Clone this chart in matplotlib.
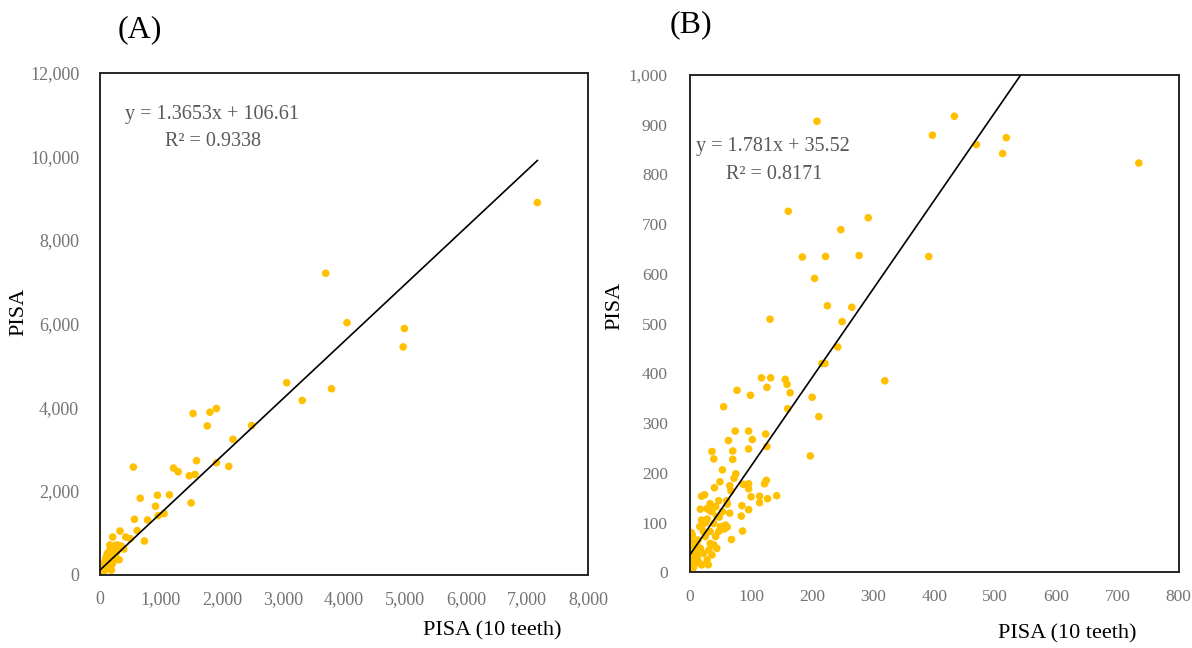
import matplotlib
matplotlib.use("Agg")
import matplotlib.pyplot as plt
from matplotlib.ticker import FuncFormatter, MultipleLocator

# ---------------- data ----------------
# Panel A: PISA (10 teeth) vs PISA
xa = [7170, 3700, 4050, 4990, 4970, 3060, 3315, 3795, 1526, 1802, 1909, 1758,
      2486, 2179, 1582, 1909, 2110, 546, 1206, 1281, 1463, 1557, 1494, 659,
      942, 1137, 910, 565, 779, 954, 1049, 609, 728, 327, 207, 421, 496, 389,
      314, 160, 239, 149, 202, 266, 106, 80, 43, 27, 11, 133, 160, 213, 186,
      293, 319, 60, 90, 120, 100, 50, 70, 140, 180, 230, 250, 30, 15, 5, 210,
      260, 170, 120, 95, 40, 350, 280, 190, 65, 20, 8]
ya = [8890, 7200, 6020, 5880, 5440, 4584, 4160, 4440, 3848, 3880, 3968, 3552,
      3560, 3232, 2720, 2672, 2584, 2568, 2544, 2456, 2360, 2392, 1712, 1824,
      1896, 1904, 1632, 1320, 1304, 1408, 1456, 1048, 800, 1040, 896, 896, 856,
      608, 352, 704, 584, 544, 440, 520, 424, 304, 184, 64, 0, 184, 264, 344,
      104, 704, 624, 120, 240, 330, 150, 40, 90, 380, 480, 650, 700, 20, 40,
      10, 280, 400, 600, 500, 380, 100, 680, 560, 230, 160, 60, 120]
slope_a, icpt_a = 1.3653, 106.61
eq_a = "y = 1.3653x + 106.61"
r2_a = "R² = 0.9338"

# Panel B
xb = [208, 433, 397, 469, 518, 512, 735, 161, 292, 247, 184, 222, 277, 391,
      204, 225, 265, 131, 249, 242, 216, 221, 319, 117, 132, 126, 156, 159,
      164, 77, 99, 200, 55, 160, 211, 74, 96, 124, 63, 102, 36, 70, 96, 126,
      39, 70, 197, 53, 75, 72, 49, 125, 122, 65, 87, 96, 96, 67, 40, 100, 114,
      127, 142, 114, 19, 24, 47, 60, 61, 85, 17, 33, 96, 84, 65, 48, 28, 19,
      61, 56, 86, 68, 2, 3,
      0, 1, 4, 11, 16, 19, 28, 33, 36, 42, 44, 39, 33, 25, 17, 22, 31, 36,
      14, 6, 0, 3, 8, 28, 19, 50, 47, 42, 53, 39, 44, 11, 6, 0, 1, 33, 58, 22,
      2, 5, 9, 13, 26, 30, 12, 4]
yb = [907, 917, 879, 860, 874, 842, 823, 726, 713, 689, 634, 635, 637, 635,
      591, 536, 533, 509, 504, 453, 420, 420, 385, 391, 391, 372, 388, 378,
      361, 366, 356, 352, 333, 329, 313, 284, 284, 278, 265, 267, 243, 244,
      248, 253, 228, 227, 234, 206, 198, 189, 182, 185, 178, 174, 177, 178,
      168, 164, 170, 152, 153, 148, 154, 140, 153, 156, 144, 144, 137, 134,
      127, 124, 126, 113, 119, 111, 107, 92, 91, 87, 83, 66, 80, 60,
      78, 62, 75, 58, 92, 105, 128, 138, 122, 132, 112, 98, 82, 72, 48, 38,
      45, 35, 21, 11, 1, 25, 31, 25, 15, 92, 82, 72, 122, 55, 48, 38, 51, 38,
      18, 58, 95, 82, 8, 40, 20, 65, 100, 15, 30, 5]
slope_b, icpt_b = 1.781, 35.52
eq_b = "y = 1.781x + 35.52"
r2_b = "R² = 0.8171"

xlabel = "PISA (10 teeth)"
ylabel = "PISA"

# ---------------- style ----------------
W, H = 1192, 648
FONT = "Liberation Serif"
plt.rcParams["font.family"] = [FONT, "DejaVu Serif"]
TICK_C = "#737373"
EQ_C = "#595959"
DOT_C = "#FFC000"
SPINE_C = "#262626"

fig = plt.figure(figsize=(W / 100, H / 100), dpi=100)


def px_axes(l, t, r, b):
    return fig.add_axes([l / W, 1 - b / H, (r - l) / W, (b - t) / H])


def fmt(v, _):
    return f"{v:,.0f}"


def style(ax, xmax, xstep, ymax, ystep, ypad, lsize):
    ax.set_xlim(0, xmax)
    ax.set_ylim(0, ymax)
    ax.xaxis.set_major_locator(MultipleLocator(xstep))
    ax.yaxis.set_major_locator(MultipleLocator(ystep))
    ax.xaxis.set_major_formatter(FuncFormatter(fmt))
    ax.yaxis.set_major_formatter(FuncFormatter(fmt))
    ax.tick_params(axis="both", length=0, labelsize=lsize, labelcolor=TICK_C)
    ax.tick_params(axis="y", pad=ypad)
    ax.tick_params(axis="x", pad=12)
    for s in ax.spines.values():
        s.set_color(SPINE_C)
        s.set_linewidth(1.4)


def fig_text(x, y, s, **kw):
    fig.text(x / W, 1 - y / H, s, ha="center", va="center", **kw)


# Panel A
axA = px_axes(100, 72.5, 588, 574.5)
style(axA, 8000, 1000, 12000, 2000, 15, 13)
axA.scatter(xa, ya, s=30, color=DOT_C, edgecolors="none", zorder=2)
xa0, xa1 = min(xa), max(xa)
axA.plot([xa0, xa1], [slope_a * xa0 + icpt_a, slope_a * xa1 + icpt_a],
         color="black", lw=1.2, zorder=3)

# Panel B
axB = px_axes(690, 75, 1178.5, 572.3)
style(axB, 800, 100, 1000, 100, 16, 12.5)
axB.scatter(xb, yb, s=30, color=DOT_C, edgecolors="none", zorder=2)
xb0, xb1 = min(xb), max(xb)
axB.plot([xb0, xb1], [slope_b * xb0 + icpt_b, slope_b * xb1 + icpt_b],
         color="black", lw=1.2, zorder=3)

# equations
fig.text(125.5 / W, 1 - 114 / H, eq_a, ha="left", va="center", fontsize=14.5, color=EQ_C)
fig.text(164.6 / W, 1 - 141.7 / H, r2_a, ha="left", va="center", fontsize=14.5, color=EQ_C)
fig.text(696.3 / W, 1 - 146.7 / H, eq_b, ha="left", va="center", fontsize=14.5, color=EQ_C)
fig.text(726 / W, 1 - 174 / H, r2_b, ha="left", va="center", fontsize=14.5, color=EQ_C)

# panel letters
fig_text(140, 30, "(A)", fontsize=23, color="black")
fig_text(691, 25, "(B)", fontsize=23, color="black")

# axis labels
fig_text(492, 631, xlabel, fontsize=16, color="black")
fig_text(1067, 634, xlabel, fontsize=16, color="black")
fig_text(19, 312, ylabel, fontsize=16, color="black", rotation=90)
fig_text(615, 306, ylabel, fontsize=16, color="black", rotation=90)

fig.savefig("out.png", dpi=100)
